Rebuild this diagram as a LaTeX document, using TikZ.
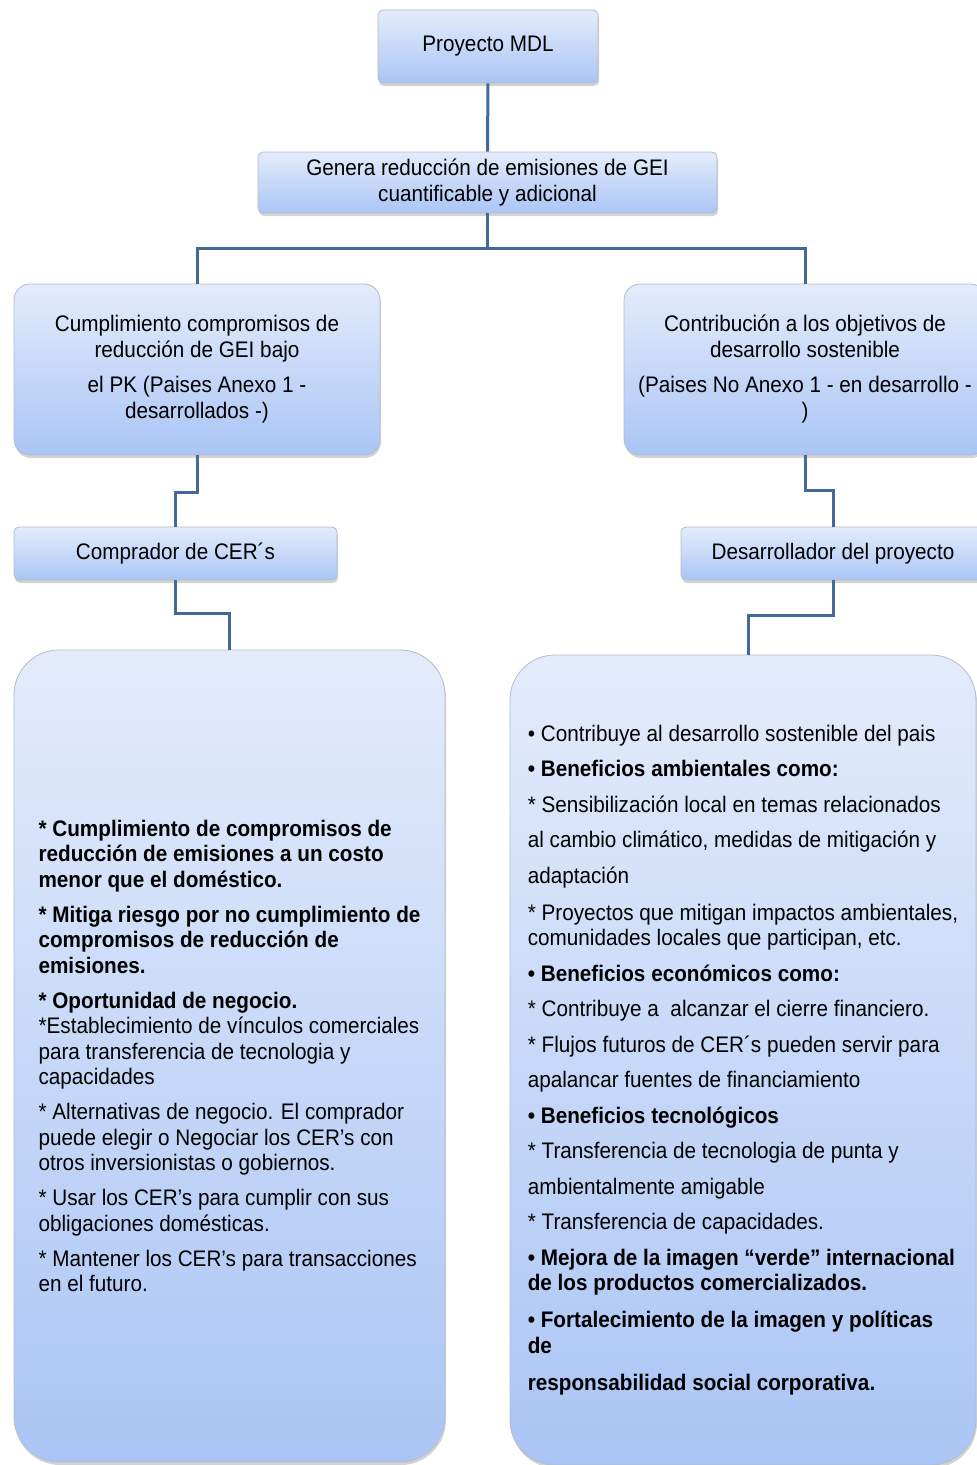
\documentclass[tikz,border=0pt]{standalone}
\usepackage{fontspec}
\setmainfont{Liberation Sans}[FakeStretch=0.92]
\usetikzlibrary{shadows}
\definecolor{cajaarriba}{HTML}{E4ECFB}
\definecolor{cajaabajo}{HTML}{AAC5F5}
\definecolor{borde}{HTML}{B4BCC8}
\definecolor{linea}{HTML}{42699A}
\begin{document}
\begin{tikzpicture}[
    x = 1pt, y = -1pt,
    caja/.style = {draw=borde, line width=0.8pt, rounded corners=5pt,
                   top color=cajaarriba, bottom color=cajaabajo,
                   drop shadow={shadow xshift=1pt, shadow yshift=-3pt, opacity=.35},
                   align=center, inner sep=0pt},
    medio/.style = {caja, rounded corners=16pt},
    grande/.style = {caja, rounded corners=45pt, align=left,
                     font=\fontsize{22.5}{25.5}\selectfont},
    conn/.style = {draw=linea, line width=3pt},
    font = \fontsize{22.5}{26}\selectfont,
  ]
  \useasboundingbox (0,0) rectangle (977,1465);
  \node[caja, minimum width=220pt, minimum height=73pt] (mdl) at (488,46.5) {Proyecto MDL};
  \node[caja, minimum width=459pt, minimum height=61pt] (genera) at (487.5,182.5)
    {Genera reducción de emisiones de GEI\\ cuantificable y adicional};
  \node[medio, minimum width=366pt, minimum height=171pt] (cumpl) at (197,369.5)
    {Cumplimiento compromisos de\\ reducción de GEI bajo\\[9pt] el PK (Paises Anexo 1 -\\ desarrollados -)};
  \node[medio, minimum width=362pt, minimum height=171pt] (contrib) at (805,369.5)
    {Contribución a los objetivos de\\ desarrollo sostenible\\[9pt] (Paises No Anexo 1 - en desarrollo -\\ )};
  \node[caja, minimum width=323pt, minimum height=53pt] (comprador) at (175.5,553.5) {Comprador de CER´s};
  \node[caja, minimum width=304pt, minimum height=53pt] (desarr) at (833,553.5) {Desarrollador del proyecto};
  % beneficios del comprador
  \node[grande, minimum width=431pt, minimum height=812pt] (benefc) at (229.5,1056) {%
    \bfseries * Cumplimiento de compromisos de\\ \bfseries reducción de emisiones a un costo\\
    \bfseries menor que el doméstico.\\[9.5pt]
    \bfseries * Mitiga riesgo por no cumplimiento de\\ \bfseries compromisos de reducción de\\
    \bfseries emisiones.\\[9.5pt]
    \bfseries * Oportunidad de negocio.\\ *Establecimiento de vínculos comerciales\\
    para transferencia de tecnologia y\\ capacidades\\[9.5pt]
    * Alternativas de negocio. El comprador\\ puede elegir o Negociar los CER’s con\\ otros inversionistas o gobiernos.\\[9.5pt]
    * Usar los CER’s para cumplir con sus\\ obligaciones domésticas.\\[9.5pt]
    * Mantener los CER’s para transacciones\\ en el futuro.};
  % beneficios del desarrollador
  \node[grande, minimum width=466pt, minimum height=810pt] (benefd) at (743,1060) {%
    • Contribuye al desarrollo sostenible del pais\\[10pt]
    \bfseries • Beneficios ambientales como:\\[10pt]
    * Sensibilización local en temas relacionados\\[10pt]
    al cambio climático, medidas de mitigación y\\[10pt]
    adaptación\\[11.5pt]
    * Proyectos que mitigan impactos ambientales,\\ comunidades locales que participan, etc.\\[10pt]
    \bfseries • Beneficios económicos como:\\[10pt]
    * Contribuye a \ alcanzar el cierre financiero.\\[10pt]
    * Flujos futuros de CER´s pueden servir para\\[10pt]
    apalancar fuentes de financiamiento\\[10pt]
    \bfseries • Beneficios tecnológicos\\[10pt]
    * Transferencia de tecnologia de punta y\\[10pt]
    ambientalmente amigable\\[10pt]
    * Transferencia de capacidades.\\[10pt]
    \bfseries • Mejora de la imagen “verde” internacional\\ \bfseries de los productos comercializados.\\[11.5pt]
    \bfseries • Fortalecimiento de la imagen y políticas\\ \bfseries de\\[12pt]
    \bfseries responsabilidad social corporativa.};
  % conectores
  \draw[conn] (mdl) -- (genera);
  \draw[conn] (genera.south) -- ++(0,35) coordinate (reparto);
  \draw[conn] (cumpl.north) |- (reparto) -| (contrib.north);
  \draw[conn] (cumpl.south) -- ++(0,37) -| (comprador.north);
  \draw[conn] (contrib.south) -- ++(0,35) -| (desarr.north);
  \draw[conn] (comprador.south) -- ++(0,33) -| (benefc.north);
  \draw[conn] (desarr.south) -- ++(0,35) -| ([xshift=5pt]benefd.north);
\end{tikzpicture}
\end{document}
